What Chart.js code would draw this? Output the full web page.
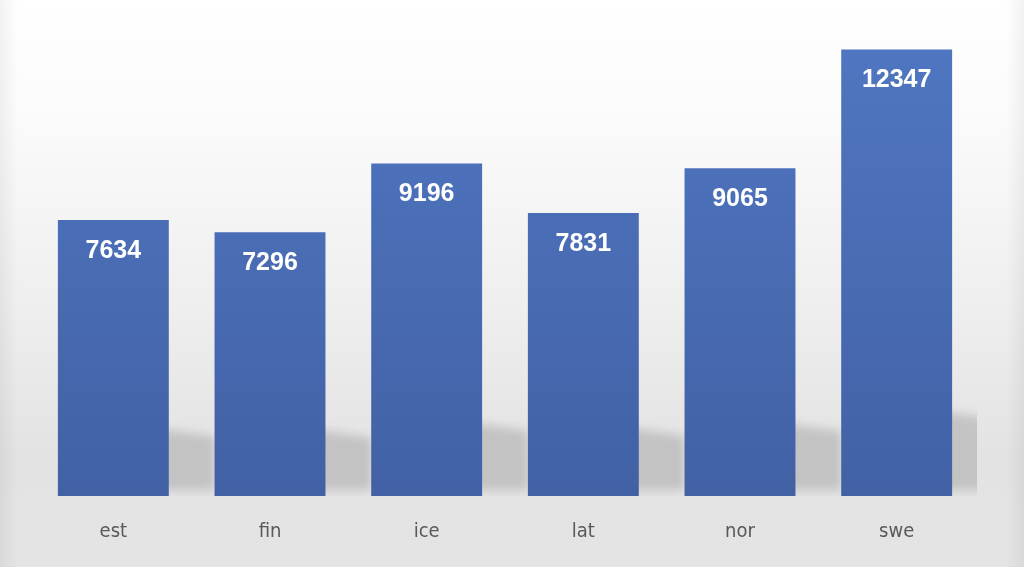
<!DOCTYPE html>
<html>
<head>
<meta charset="utf-8">
<script src="https://cdn.jsdelivr.net/npm/chart.js@4.4.1/dist/chart.umd.min.js"></script>
<style>
  html, body { margin: 0; padding: 0; background: #ffffff; }
  #wrap { width: 1024px; height: 567px; position: relative; }
</style>
</head>
<body>
<div id="wrap"><canvas id="barChart"></canvas></div>
<script>
// data
const countries = ['est', 'fin', 'ice', 'lat', 'nor', 'swe'];
const counts = [7634, 7296, 9196, 7831, 9065, 12347];
const yMax = 13000;

// soft grey backdrop, lighter at the top
const backdropPlugin = {
  id: 'backdrop',
  beforeDraw(chart) {
    const ctx = chart.ctx;
    const w = chart.width, h = chart.height;
    ctx.save();
    const g = ctx.createLinearGradient(0, 0, 0, h);
    g.addColorStop(0, '#ffffff');
    g.addColorStop(0.2, '#fbfbfb');
    g.addColorStop(0.55, '#eeeeee');
    g.addColorStop(0.8, '#e3e3e3');
    g.addColorStop(1, '#e4e4e4');
    ctx.fillStyle = g;
    ctx.fillRect(0, 0, w, h);
    // faint darker side edges
    const gl = ctx.createLinearGradient(0, 0, 18, 0);
    gl.addColorStop(0, 'rgba(0,0,0,0.05)');
    gl.addColorStop(1, 'rgba(0,0,0,0)');
    ctx.fillStyle = gl;
    ctx.fillRect(0, 0, 18, h);
    const gr = ctx.createLinearGradient(w - 18, 0, w, 0);
    gr.addColorStop(0, 'rgba(0,0,0,0)');
    gr.addColorStop(1, 'rgba(0,0,0,0.05)');
    ctx.fillStyle = gr;
    ctx.fillRect(w - 18, 0, 18, h);
    ctx.restore();
  }
};

// shadow each bar casts to its right, near the floor
const barShadowPlugin = {
  id: 'barShadow',
  beforeDatasetsDraw(chart) {
    const ctx = chart.ctx;
    const area = chart.chartArea;
    const meta = chart.getDatasetMeta(0);
    ctx.save();
    ctx.beginPath();
    ctx.rect(area.left, area.top, area.right - area.left + 2, area.bottom - area.top);
    ctx.clip();
    ctx.filter = 'blur(5px)';
    ctx.fillStyle = 'rgba(0,0,0,0.14)';
    meta.data.forEach(bar => {
      const right = bar.x + bar.width / 2;
      const hgt = bar.base - bar.y;
      const top = bar.base - (40 + 0.1 * hgt);
      ctx.beginPath();
      ctx.moveTo(right - 10, top);
      ctx.lineTo(right + 46, top + 8);
      ctx.lineTo(right + 46, bar.base - 6);
      ctx.lineTo(right + 18, bar.base - 6);
      ctx.lineTo(right - 10, bar.base - 6);
      ctx.closePath();
      ctx.fill();
    });
    ctx.restore();
  }
};

// white value inside the top of every bar
const valueLabelPlugin = {
  id: 'valueLabels',
  afterDatasetsDraw(chart) {
    const ctx = chart.ctx;
    const meta = chart.getDatasetMeta(0);
    ctx.save();
    ctx.font = 'bold 25px "Liberation Sans", Arial, sans-serif';
    ctx.fillStyle = '#ffffff';
    ctx.textAlign = 'center';
    ctx.textBaseline = 'middle';
    meta.data.forEach((bar, i) => {
      ctx.fillText(String(counts[i]), bar.x, bar.y + 31);
    });
    ctx.restore();
  }
};

function barFill(context) {
  const chart = context.chart;
  const area = chart.chartArea;
  if (!area) return '#4a6cb6';
  const g = chart.ctx.createLinearGradient(0, area.top, 0, area.bottom);
  g.addColorStop(0, '#5077c2');
  g.addColorStop(1, '#4261a5');
  return g;
}

new Chart(document.getElementById('barChart'), {
  type: 'bar',
  data: {
    labels: countries,
    datasets: [{
      data: counts,
      backgroundColor: barFill,
      borderWidth: 0,
      barPercentage: 1,
      categoryPercentage: 0.708
    }]
  },
  options: {
    responsive: true,
    maintainAspectRatio: false,
    animation: false,
    layout: {
      padding: { top: 26, left: 35, right: 49, bottom: 0 }
    },
    plugins: {
      legend: { display: false },
      tooltip: { enabled: false }
    },
    scales: {
      x: {
        grid: { display: false },
        border: { display: false },
        afterFit(scale) { scale.height = 71; },
        ticks: {
          color: '#595959',
          padding: 16,
          font: { family: '"Liberation Sans Narrow", "DejaVu Sans Condensed", sans-serif', size: 20 }
        }
      },
      y: {
        display: false,
        min: 0,
        max: yMax
      }
    }
  },
  plugins: [backdropPlugin, barShadowPlugin, valueLabelPlugin]
});
</script>
</body>
</html>
